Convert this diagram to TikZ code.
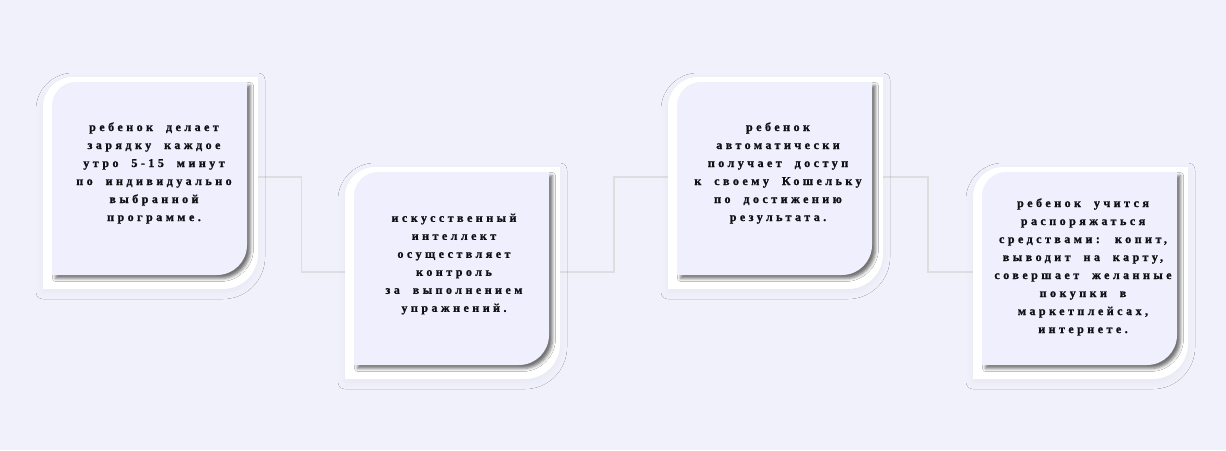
\documentclass[tikz,border=0pt]{standalone}
\usepackage{fontspec}
\setmainfont{Liberation Serif}
\newfontfamily\cardfont[LetterSpace=29,WordSpace=2,FakeBold=1.2]{Liberation Serif Bold}
\usetikzlibrary{shadows.blur,calc}
\definecolor{bgcol}{RGB}{241,241,251}
\definecolor{innercol}{RGB}{240,239,253}
\definecolor{linecol}{RGB}{222,222,226}
\definecolor{txtcol}{RGB}{15,15,20}
\tikzset{
  outerstyle/.style={fill=white, blur shadow={shadow xshift=0pt, shadow yshift=-3pt, shadow blur radius=7pt, shadow opacity=4}},
  innerstyle/.style={fill=innercol, blur shadow={shadow xshift=3.5pt, shadow yshift=-3.5pt, shadow blur radius=3pt, shadow opacity=55}},
  cardtext/.style={align=center, text=txtcol, font=\cardfont\fontsize{12}{18}\selectfont, inner sep=0pt},
  cardbox/.style={minimum width=215pt, minimum height=212pt, inner sep=0pt, outer sep=0pt},
  conn/.style={draw=linecol, line width=1.6pt}
}
\newcommand\mycard[3]{%
  \fill[outerstyle] ({#2},{-#3-212}) -- ({#2},{-#3-30}) arc[start angle=180,end angle=90,radius=30pt] -- ({#2+215},{-#3}) -- ({#2+215},{-#3-177}) arc[start angle=0,end angle=-90,radius=35pt] -- cycle;
  \fill[innerstyle] ({#2+9},{-#3-198}) -- ({#2+9},{-#3-29}) arc[start angle=180,end angle=90,radius=24pt] -- ({#2+204},{-#3-5}) -- ({#2+204},{-#3-168}) arc[start angle=0,end angle=-90,radius=30pt] -- cycle;
  \node[cardbox] (#1) at ({#2+107.5},{-#3-106}) {};
}
\begin{document}
\begin{tikzpicture}[x=1pt,y=1pt]
\fill[bgcol] (0,0) rectangle (1226,-450);
\useasboundingbox (0,0) rectangle (1226,-450);
% card placeholders for connectors
\node[cardbox] (c1) at (150.5,-183) {};
\node[cardbox] (c2) at (452.5,-273) {};
\node[cardbox] (c3) at (775.5,-183) {};
\node[cardbox] (c4) at (1080.5,-273) {};
\coordinate (m1) at ($(c1.east)!0.5!(c2.west)$);
\coordinate (m2) at ($(c2.east)!0.5!(c3.west)$);
\coordinate (m3) at ($(c3.east)!0.5!(c4.west)$);
\draw[conn] ([yshift=6pt]c1.east) -| (m1) |- ([yshift=1pt]c2.west);
\draw[conn] ([yshift=1pt]c2.east) -| (m2) |- ([yshift=6pt]c3.west);
\draw[conn] ([yshift=6pt]c3.east) -| (m3) |- ([yshift=1pt]c4.west);
\mycard{k1}{43}{77}
\mycard{k2}{345}{167}
\mycard{k3}{668}{77}
\mycard{k4}{973}{167}
\node[cardtext] (t1) at (154,-173) {ребенок делает\\зарядку каждое\\утро 5-15 минут\\по индивидуально\\выбранной\\программе.};
\node[cardtext] (t2) at (454,-264) {искусственный\\интеллект\\осуществляет\\контроль\\за выполнением\\упражнений.};
\node[cardtext] (t3) at (778,-173) {ребенок\\автоматически\\получает доступ\\к своему Кошельку\\по достижению\\результата.};
\node[cardtext] (t4) at (1083,-267) {ребенок учится\\распоряжаться\\средствами: копит,\\выводит на карту,\\совершает желанные\\покупки в\\маркетплейсах,\\интернете.};
\end{tikzpicture}
\end{document}
